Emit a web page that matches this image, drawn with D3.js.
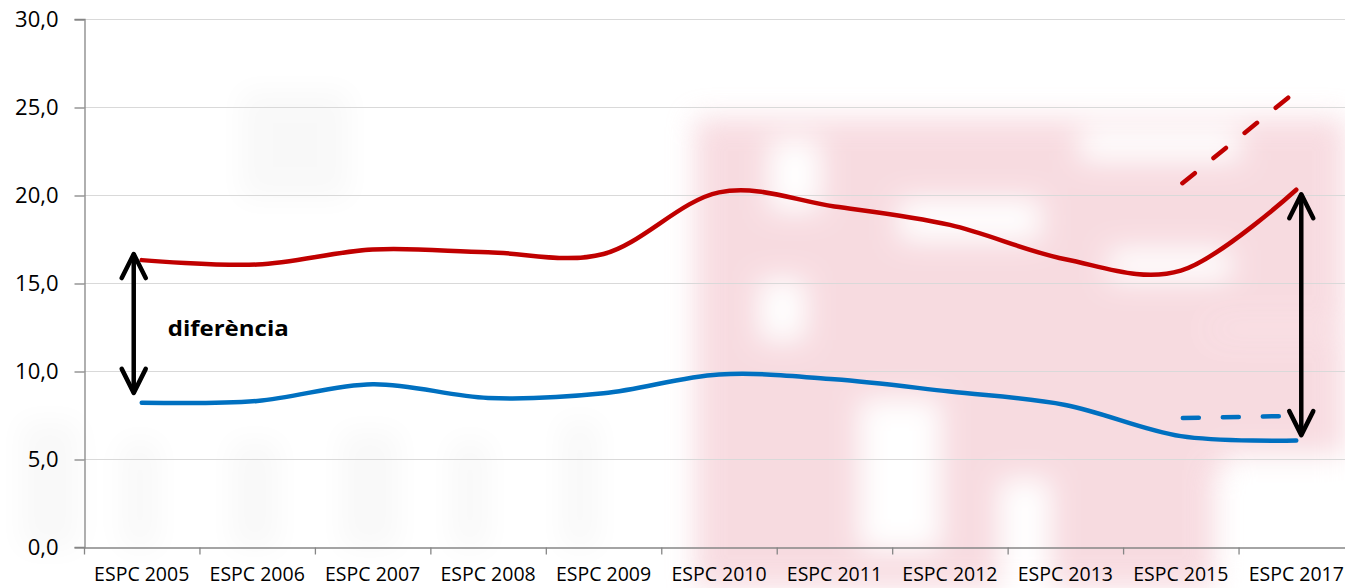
<!DOCTYPE html>
<html>
<head>
<meta charset="utf-8">
<script src="https://cdn.jsdelivr.net/npm/d3@7"></script>
<style>
  html, body { margin: 0; padding: 0; background: #fff; }
  svg { display: block; font-family: "Open Sans", sans-serif; }
</style>
</head>
<body>
<div id="chart"></div>
<script>
const categories = ["ESPC 2005", "ESPC 2006", "ESPC 2007", "ESPC 2008", "ESPC 2009", "ESPC 2010",
  "ESPC 2011", "ESPC 2012", "ESPC 2013", "ESPC 2015", "ESPC 2017"];
const redValues = [16.3, 16.05, 16.9, 16.75, 16.65, 20.15, 19.35, 18.3, 16.35, 15.7, 20.3];
const blueValues = [8.2, 8.3, 9.25, 8.47, 8.73, 9.8, 9.53, 8.83, 8.07, 6.3, 6.05];
const projCategories = ["ESPC 2015", "ESPC 2017"];
const redProjection = [20.6, 25.9];
const blueProjection = [7.33, 7.45];
const yTicks = [0, 5, 10, 15, 20, 25, 30];
// double arrows: category, lower value, upper value
const arrowCats = ["ESPC 2005", "ESPC 2017"];
const arrowLow = [8.7, 6.3];
const arrowHigh = [16.7, 20.1];
const annotation = "diferència";

const width = 1345, height = 588;
const margin = {left: 84, top: 19, bottom: 41};

const svg = d3.select("#chart").append("svg")
    .attr("width", width)
    .attr("height", height);

const x = d3.scaleBand()
    .domain(categories)
    .range([margin.left, 1354])
    .padding(0);
const y = d3.scaleLinear()
    .domain([0, 30])
    .range([height - margin.bottom, margin.top]);
const cx = c => x(c) + x.bandwidth() / 2;

// faint watermark in the background (blurred pink logo)
const defs = svg.append("defs");
defs.append("filter").attr("id", "blur")
    .attr("filterUnits", "userSpaceOnUse")
    .attr("x", 0).attr("y", 0).attr("width", width).attr("height", height)
    .append("feGaussianBlur").attr("stdDeviation", 14);
const wm = svg.append("g").attr("filter", "url(#blur)").attr("opacity", 0.65);
const pink = "#f4c9d1";
[[695, 118, 650, 210], [695, 118, 100, 470], [795, 300, 420, 288], [1000, 330, 345, 120], [1215, 450, 130, 20]]
  .forEach(r => wm.append("rect").attr("x", r[0]).attr("y", r[1]).attr("width", r[2]).attr("height", r[3]).attr("fill", pink));
// lighter streaks inside the logo
[[770, 140, 50, 70], [900, 200, 140, 40], [1080, 130, 160, 30], [860, 400, 80, 150], [1225, 455, 120, 133],
 [760, 280, 45, 60], [1110, 250, 120, 30], [1000, 480, 50, 108]]
  .forEach(r => wm.append("rect").attr("x", r[0]).attr("y", r[1]).attr("width", r[2]).attr("height", r[3]).attr("fill", "#fff"));
// faint grey blotches on the left
const grey = svg.append("g").attr("filter", "url(#blur)").attr("opacity", 0.025);
[[20, 420, 60, 130], [120, 440, 40, 110], [230, 440, 50, 110], [340, 430, 60, 120], [450, 440, 40, 110], [560, 420, 40, 130], [240, 90, 110, 110]]
  .forEach(r => grey.append("rect").attr("x", r[0]).attr("y", r[1]).attr("width", r[2]).attr("height", r[3]).attr("fill", "#000"));

// gridlines
svg.append("g")
  .selectAll("line")
  .data(yTicks.filter(d => d > 0))
  .join("line")
    .attr("x1", margin.left).attr("x2", width)
    .attr("y1", d => y(d) + 0.5).attr("y2", d => y(d) + 0.5)
    .attr("stroke", "#d9d9d9").attr("stroke-width", 1.2);

// y axis
const yAxis = svg.append("g")
    .attr("transform", `translate(${margin.left + 0.5},0)`)
    .call(d3.axisLeft(y).tickValues(yTicks).tickSize(10).tickPadding(16)
        .tickFormat(d => d3.format(".1f")(d).replace(".", ",")));
yAxis.select(".domain").attr("stroke", "#868686").attr("stroke-width", 1.3);
yAxis.selectAll(".tick line").attr("stroke", "#868686").attr("stroke-width", 1.3)
    .attr("transform", "translate(0,0.5)");
yAxis.selectAll("text").attr("font-size", 22).attr("fill", "#000")
    .attr("font-family", "'Open Sans', sans-serif").attr("dy", "0.36em");

// x axis
const xAxis = svg.append("g")
    .attr("transform", `translate(0,${y(0) + 0.5})`)
    .call(d3.axisBottom(x).tickSize(0).tickPadding(20));
xAxis.select(".domain").attr("stroke", "#868686").attr("stroke-width", 1.3);
xAxis.selectAll("text").attr("font-size", 19.5).attr("fill", "#000")
    .attr("font-family", "'Open Sans', sans-serif");
xAxis.append("g")
  .selectAll("line")
  .data(categories)
  .join("line")
    .attr("x1", d => x(d) + 0.5).attr("x2", d => x(d) + 0.5)
    .attr("y1", 0).attr("y2", 7)
    .attr("stroke", "#868686").attr("stroke-width", 1.3);

// series lines
const line = d3.line()
    .x(d => cx(d[0]))
    .y(d => y(d[1]))
    .curve(d3.curveCardinal.tension(0));
const straight = d3.line()
    .x(d => cx(d[0]))
    .y(d => y(d[1]));

function drawSeries(cats, vals, color, dashed) {
  svg.append("path")
      .datum(d3.zip(cats, vals))
      .attr("d", dashed ? straight : line)
      .attr("fill", "none")
      .attr("stroke", color)
      .attr("stroke-width", 4.5)
      .attr("stroke-linecap", "round")
      .attr("stroke-dasharray", dashed ? "16,24" : null)
      .attr("stroke-dashoffset", dashed ? -2 : null);
}
drawSeries(categories, redValues, "#c00000", false);
drawSeries(categories, blueValues, "#0070c0", false);
drawSeries(projCategories, redProjection, "#c00000", true);
drawSeries(projCategories, blueProjection, "#0070c0", true);

// double arrows
const arrowOffset = [-8, 5];
arrowCats.forEach((c, i) => {
  const ax = cx(c) + arrowOffset[i];
  const y1 = y(arrowHigh[i]), y2 = y(arrowLow[i]);
  const g = svg.append("g")
      .attr("stroke", "#000").attr("stroke-width", 4.5)
      .attr("fill", "none")
      .attr("stroke-linecap", "round").attr("stroke-linejoin", "round");
  g.append("line").attr("x1", ax).attr("x2", ax).attr("y1", y1 + 2).attr("y2", y2 - 2);
  g.append("polyline").attr("points", `${ax - 12},${y1 + 25} ${ax},${y1 + 1} ${ax + 12},${y1 + 25}`);
  g.append("polyline").attr("points", `${ax - 12},${y2 - 25} ${ax},${y2 - 1} ${ax + 12},${y2 - 25}`);
});

svg.append("text")
    .attr("x", cx(categories[0]) + 26)
    .attr("y", y(12.0))
    .attr("font-size", 22)
    .attr("font-weight", "bold")
    .attr("fill", "#000")
    .attr("textLength", 121)
    .attr("lengthAdjust", "spacingAndGlyphs")
    .text(annotation);
</script>
</body>
</html>
